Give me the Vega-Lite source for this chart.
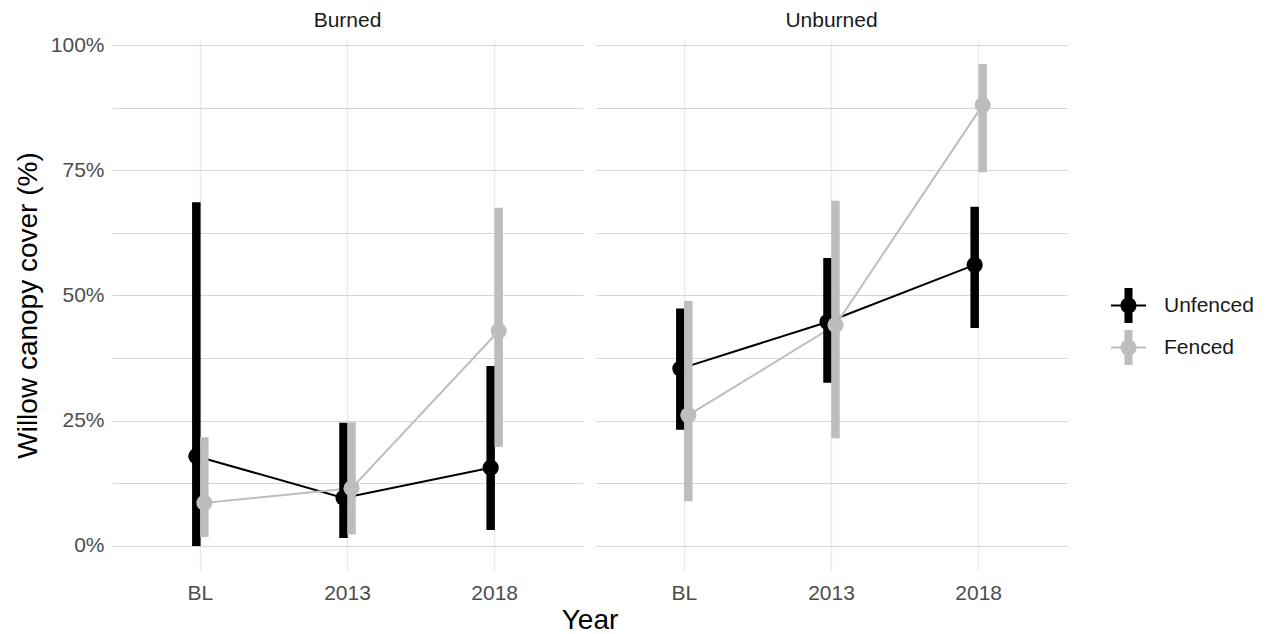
{
  "$schema": "https://vega.github.io/schema/vega-lite/v6.json",
  "padding": {"left": 14, "top": 10, "right": 5, "bottom": 5},
  "background": "white",
  "data": {"values": [
    {"Site": "Burned", "Year": "BL", "Treatment": "Unfenced", "cover": 17.9, "lower": 0.0, "upper": 68.6},
    {"Site": "Burned", "Year": "BL", "Treatment": "Fenced", "cover": 8.6, "lower": 1.8, "upper": 21.7},
    {"Site": "Burned", "Year": "2013", "Treatment": "Unfenced", "cover": 9.6, "lower": 1.6, "upper": 24.6},
    {"Site": "Burned", "Year": "2013", "Treatment": "Fenced", "cover": 11.5, "lower": 2.3, "upper": 24.7},
    {"Site": "Burned", "Year": "2018", "Treatment": "Unfenced", "cover": 15.6, "lower": 3.2, "upper": 35.9},
    {"Site": "Burned", "Year": "2018", "Treatment": "Fenced", "cover": 42.9, "lower": 19.8, "upper": 67.5},
    {"Site": "Unburned", "Year": "BL", "Treatment": "Unfenced", "cover": 35.4, "lower": 23.2, "upper": 47.4},
    {"Site": "Unburned", "Year": "BL", "Treatment": "Fenced", "cover": 26.1, "lower": 8.9, "upper": 48.9},
    {"Site": "Unburned", "Year": "2013", "Treatment": "Unfenced", "cover": 44.7, "lower": 32.6, "upper": 57.5},
    {"Site": "Unburned", "Year": "2013", "Treatment": "Fenced", "cover": 44.1, "lower": 21.5, "upper": 68.9},
    {"Site": "Unburned", "Year": "2018", "Treatment": "Unfenced", "cover": 56.1, "lower": 43.5, "upper": 67.7},
    {"Site": "Unburned", "Year": "2018", "Treatment": "Fenced", "cover": 88.0, "lower": 74.6, "upper": 96.2}
  ]},
  "facet": {
    "column": {
      "field": "Site", "type": "nominal", "sort": ["Burned", "Unburned"],
      "header": {
        "title": "Year", "titleOrient": "bottom", "titleFontSize": 28, "titleFontWeight": "normal", "titleColor": "#000000", "titlePadding": -6,
        "labelOrient": "top", "labelFontSize": 21, "labelColor": "#1a1a1a", "labelPadding": 9
      }
    }
  },
  "spacing": 13,
  "spec": {
    "width": 471,
    "height": 530,
    "encoding": {
      "x": {
        "field": "Year", "type": "nominal", "sort": ["BL", "2013", "2018"],
        "scale": {"type": "band", "paddingInner": 0.891, "paddingOuter": 0.5457},
        "axis": {"title": null, "labelAngle": 0, "labelPadding": 12, "labelFontSize": 21, "labelColor": "#4d4d4d", "ticks": false, "domain": false, "grid": true, "gridColor": "#ebebeb", "gridWidth": 1.5}
      },
      "xOffset": {"field": "Treatment", "type": "nominal", "sort": ["Unfenced", "Fenced"], "scale": {"domain": ["Unfenced", "Fenced"], "paddingInner": 0, "paddingOuter": 0}},
      "color": {
        "field": "Treatment", "type": "nominal",
        "scale": {"domain": ["Unfenced", "Fenced"], "range": ["#000000", "#bdbdbd"]},
        "legend": {
          "title": null, "orient": "none", "legendX": 999, "legendY": 248,
          "labelFontSize": 21, "labelColor": "#1a1a1a", "labelOffset": 18,
          "symbolType": "M-1,-0.06H1V0.06H-1Z M-0.23,-1H0.23V1H-0.23Z M-0.46,0A0.46,0.46 0 1,1 0.46,0A0.46,0.46 0 1,1 -0.46,0Z",
          "symbolSize": 1225, "symbolStrokeWidth": 0, "rowPadding": 7,
          "encode": {"symbols": {"update": {"fill": {"scale": "color", "field": "value"}, "fillOpacity": {"value": 1}, "strokeWidth": {"value": 0}}}}
        }
      }
    },
    "layer": [
      {
        "mark": {"type": "line", "strokeWidth": 2},
        "encoding": {
          "y": {"field": "cover", "type": "quantitative",
            "scale": {"domain": [-4.8, 101], "nice": false, "zero": false},
            "axis": {"title": "Willow canopy cover (%)", "titleFontSize": 28, "titleFontWeight": "normal", "titleColor": "#000000", "titlePadding": 8,
              "values": [0, 12.5, 25, 37.5, 50, 62.5, 75, 87.5, 100],
              "labelExpr": "datum.value % 25 === 0 ? datum.value + '%' : ''",
              "labelFontSize": 21, "labelColor": "#4d4d4d", "labelPadding": 8, "ticks": false, "domain": false, "grid": true, "gridColor": "#d6d6d6", "gridWidth": 1}}
        }
      },
      {
        "transform": [{"filter": "datum.Treatment === 'Unfenced'"}],
        "mark": {"type": "rule", "strokeWidth": 8.5},
        "encoding": {"y": {"field": "lower", "type": "quantitative"}, "y2": {"field": "upper"}}
      },
      {
        "transform": [{"filter": "datum.Treatment === 'Unfenced'"}],
        "mark": {"type": "circle", "size": 260, "opacity": 1},
        "encoding": {"y": {"field": "cover", "type": "quantitative"}}
      },
      {
        "transform": [{"filter": "datum.Treatment === 'Fenced'"}],
        "mark": {"type": "rule", "strokeWidth": 8.5},
        "encoding": {"y": {"field": "lower", "type": "quantitative"}, "y2": {"field": "upper"}}
      },
      {
        "transform": [{"filter": "datum.Treatment === 'Fenced'"}],
        "mark": {"type": "circle", "size": 260, "opacity": 1},
        "encoding": {"y": {"field": "cover", "type": "quantitative"}}
      }
    ]
  },
  "config": {
    "font": "Liberation Sans",
    "view": {"stroke": null}
  }
}
